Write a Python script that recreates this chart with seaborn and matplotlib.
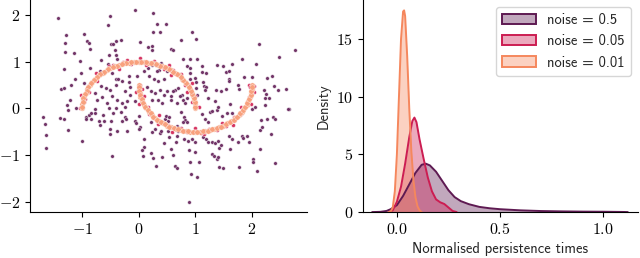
import matplotlib
matplotlib.use("Agg")
import matplotlib.pyplot as plt
from matplotlib.colors import to_rgba
from matplotlib.patches import Patch
import numpy as np
import pandas as pd
import seaborn as sns

# --- left panel: two moons at three noise levels ---
noise05_x = [
    -1.42, -0.50, -0.07, 0.25, -0.55, 0.33, 0.49, -1.28, -0.96, -0.91, -0.88, -0.87, -1.31, -1.30, -1.15,
    -1.04, -1.33, -0.49, -0.45, -0.40, -0.32, 0.02, 0.25, 0.38, 0.17, 0.24, 0.24, -0.42, -0.41, -0.38,
    -0.53, -0.67, -0.55, -0.87, -1.03, -1.12, -0.96, -1.19, -1.37, -1.32, -1.21, -1.27, -0.68, -0.47, -0.41,
    -0.37, -0.29, -0.17, -0.03, 0.09, 0.16, 0.24, 0.31, 0.40, 0.36, 0.32, 0.47, 0.50, 0.19, 0.27,
    0.35, 0.44, -0.66, -0.58, -0.50, -0.40, -0.17, -0.15, -0.25, -0.78, -0.74, -0.65, -0.56, -0.47, -0.38,
    -0.29, -0.21, 0.15, 0.21, 0.29, 0.37, 0.44, 0.50, 0.24, 0.35, 0.41, 0.06, -0.06, -0.15,
    0.94, 0.75, 1.01, 0.57, 0.61, 2.13, 2.76, 0.78, 0.91, 1.04, 2.48, 1.83, 1.39, 1.49, 1.66,
    1.12, 2.08, 0.86, 0.90, 1.12, 1.19, 1.55, 1.59, 1.86, 2.00, 2.28, 2.36, 1.60, 1.60, 0.90,
    0.91, 0.99, 1.02, 1.13, 1.16, 1.20, 1.36, 1.46, 1.54, 1.75, 1.78, 2.21, 2.25, 2.24, 2.40,
    2.47, 2.60, 2.31, 1.22, 1.35, 1.62, 2.23, 0.65, 0.61, 0.70, 0.76, 0.79, 0.73, 0.85, 0.58,
    0.67, 0.82, 0.57, 1.01, 1.04, 1.17, 2.66,
    -1.70, -1.66, -1.65, -1.65, -1.26, -1.39, -1.33, -1.25, -1.11, -1.00, -0.47, -0.94, -0.93, -0.84, -0.88,
    -0.84, -0.78, -0.77, -0.71, -0.69, -0.62, -0.63, -0.52, -0.45, -0.40, -0.32, -0.24, -0.49, -0.30, -0.24,
    -0.22, -0.51, -0.50, -0.38, -0.20, -0.06, -0.04, 0.00, 0.03, 0.01, 0.09, 0.09, 0.05, 0.08, 0.22,
    0.25, 0.21, 0.24, 0.28, 0.37, 0.40, 0.30, 0.42, 0.44, 0.53, 0.52, 0.47, 0.51, 0.49,
    0.74, 0.54, 0.80, 0.82, 0.85, 0.79, 0.68, 0.70, 0.67, 0.66, 0.80, 0.88, 0.94, 0.99, 0.57,
    0.61, 0.89, 1.00, 0.65, 0.67, 0.91, 1.07, 0.92, 1.04, 0.89, 1.12, 1.17, 1.23, 1.26, 1.29,
    1.38, 1.41, 1.47, 1.56, 1.65, 1.13, 1.20, 1.22, 1.30, 1.35, 1.41, 1.42, 1.45, 1.29, 1.33,
    1.38, 1.41, 1.43, 1.50, 1.59, 1.65, 1.61, 1.76, 1.83, 1.85, 1.91, 1.96, 1.78, 2.02, 2.03,
    2.09, 2.14, 2.42, 2.35, 2.14, 2.19, 2.17, 2.27, 2.38, 2.42, 2.65, 2.00, 2.06,
]
noise05_y = [
    1.94, 1.98, 2.12, 2.05, 1.79, 1.81, 1.82, 1.57, 1.59, 1.44, 1.41, 1.28, 1.41, 1.20, 1.18,
    1.01, 0.85, 1.38, 1.38, 1.44, 1.46, 1.43, 1.63, 1.65, 1.31, 1.33, 1.26, 1.26, 1.15, 1.07,
    1.14, 1.03, 0.95, 0.87, 0.75, 0.62, 0.54, 0.51, 0.42, 0.44, 0.17, 0.08, 0.81, 0.76, 0.62,
    0.64, 0.59, 0.69, 0.69, 0.80, 0.86, 0.94, 0.93, 0.97, 0.83, 0.80, 0.87, 0.80, 0.69, 0.62,
    0.58, 0.63, 0.47, 0.44, 0.40, 0.51, 0.57, 0.46, 0.37, 0.33, 0.19, 0.24, 0.11, 0.26, 0.19,
    0.11, 0.15, 0.46, 0.37, 0.33, 0.40, 0.29, 0.37, 0.19, 0.19, 0.11, 0.26, 0.15, 0.29,
    1.65, 1.46, 1.48, 1.28, 1.25, 1.38, 1.25, 1.06, 1.06, 1.07, 1.10, 1.06, 0.93, 0.91, 0.95,
    0.92, 0.95, 0.91, 0.87, 0.78, 0.77, 0.78, 0.81, 0.67, 0.68, 0.65, 0.70, 0.62, 0.59, 0.76,
    0.63, 0.65, 0.56, 0.56, 0.49, 0.46, 0.39, 0.37, 0.41, 0.51, 0.42, 0.39, 0.31, 0.22, 0.47,
    0.39, 0.42, 0.22, 0.22, 0.15, 0.09, 0.08, 0.40, 0.37, 0.44, 0.29, 0.19, 0.26, 0.22, 0.19,
    0.11, 0.11, 0.26, 0.44, 0.29, 0.39, -0.01,
    -0.19, -0.34, -0.57, -0.86, -0.47, -0.21, -0.22, -0.04, 0.01, -0.70, -1.02, -0.18, -0.22, -0.23, -0.14,
    -0.10, -0.09, -0.01, -0.27, -0.35, -0.27, -0.14, 0.01, -0.09, 0.00, -0.07, 0.02, -0.27, -0.28, -0.19,
    -0.23, -0.44, -0.56, -0.49, -0.49, -0.28, -0.32, -0.16, -0.39, -0.44, -0.66, -0.84, -0.90, -1.02, -0.95,
    -1.06, -0.30, -0.50, -0.44, -0.52, -0.49, -1.24, -1.05, -0.75, -0.62, -0.48, -0.22, -0.27, -0.16,
    -0.07, -0.19, -0.19, -0.24, -0.29, -0.29, -0.37, -0.48, -0.59, -0.72, -0.65, -0.70, -0.66, -0.73, -0.87,
    -1.00, -0.90, -0.93, -1.23, -1.29, -1.16, -1.15, -1.41, -1.48, -2.02, -0.12, -0.23, -0.30, -0.07, -0.05,
    -0.03, 0.02, -0.16, -0.09, -0.09, -0.62, -0.66, -0.73, -0.72, -0.75, -0.70, -0.86, -0.79, -0.98, -1.02,
    -1.09, -1.04, -1.25, -1.29, -0.59, -0.65, -0.87, -0.73, -0.59, -0.64, -0.60, -0.73, -1.25, -1.09, -1.15,
    -1.35, -0.87, -1.18, -0.54, -0.47, -0.39, -0.24, -0.23, -0.19, -0.23, -0.01, -0.01, 0.02,
]

noise005_x = [
    1.06, 0.94, 0.99, 0.86, 0.94, 0.76, 0.74, 0.57, 0.54, 0.37, 0.27, 0.13, 0.02, -0.13, -0.27,
    -0.34, -0.53, -0.61, -0.76, -0.74, -0.88, -0.88, -1.03, -0.96, -1.04, 0.45, -0.20, 0.82, -0.95, 0.60,
    -0.45,
    0.03, -0.04, 0.10, 0.00, 0.17, 0.19, 0.36, 0.35, 0.51, 0.59, 0.75, 0.86, 1.00, 1.15, 1.25,
    1.39, 1.47, 1.67, 1.68, 1.81, 1.81, 1.98, 1.95, 2.04, 1.95, 1.97, 2.05, 0.05, 1.10, 0.65,
    1.55,
]
noise005_y = [
    0.03, 0.13, 0.26, 0.35, 0.54, 0.60, 0.74, 0.72, 0.93, 0.91, 1.01, 0.93, 1.09, 0.95, 0.99,
    0.84, 0.92, 0.78, 0.76, 0.58, 0.51, 0.36, 0.28, 0.13, 0.01, 0.84, 1.04, 0.50, 0.20, 0.82,
    0.93,
    0.50, 0.35, 0.26, 0.10, 0.02, -0.13, -0.14, -0.34, -0.35, -0.51, -0.42, -0.51, -0.42, -0.56, -0.44,
    -0.46, -0.31, -0.35, -0.18, -0.13, 0.03, 0.10, 0.25, 0.35, 0.50, 0.45, 0.48, 0.42, -0.53, -0.42,
    -0.38,
]

noise001_x = [
    # upper moon
    1.00, 1.00, 0.98, 0.97, 0.94, 0.91, 0.87, 0.82, 0.77, 0.71, 0.64, 0.57, 0.50, 0.42, 0.34,
    0.26, 0.17, 0.09, 0.00, -0.09, -0.17, -0.26, -0.34, -0.42, -0.50, -0.57, -0.64, -0.71, -0.77, -0.82,
    -0.87, -0.91, -0.94, -0.97, -0.98, -1.00, -1.00,
    1.00, 0.99, 0.98, 0.95, 0.92, 0.89, 0.84, 0.79, 0.74, 0.68, 0.61, 0.54, 0.46, 0.38, 0.30,
    0.22, 0.13, 0.04, -0.04, -0.13, -0.22, -0.30, -0.38, -0.46, -0.54, -0.61, -0.68, -0.74, -0.79, -0.84,
    -0.89, -0.92, -0.95, -0.98, -0.99, -1.00,
    # lower moon
    0.00, 0.00, 0.02, 0.03, 0.06, 0.09, 0.13, 0.18, 0.23, 0.29, 0.36, 0.43, 0.50, 0.58, 0.66,
    0.74, 0.83, 0.91, 1.00, 1.09, 1.17, 1.26, 1.34, 1.42, 1.50, 1.57, 1.64, 1.71, 1.77, 1.82,
    1.87, 1.91, 1.94, 1.97, 1.98, 2.00, 2.00,
    0.00, 0.01, 0.02, 0.05, 0.08, 0.11, 0.16, 0.21, 0.26, 0.32, 0.39, 0.46, 0.54, 0.62, 0.70,
    0.78, 0.87, 0.96, 1.04, 1.13, 1.22, 1.30, 1.38, 1.46, 1.54, 1.61, 1.68, 1.74, 1.79, 1.84,
    1.89, 1.92, 1.95, 1.98, 1.99, 2.00,
]
noise001_y = [
    0.00, 0.09, 0.17, 0.26, 0.34, 0.42, 0.50, 0.57, 0.64, 0.71, 0.77, 0.82, 0.87, 0.91, 0.94,
    0.97, 0.98, 1.00, 1.00, 1.00, 0.98, 0.97, 0.94, 0.91, 0.87, 0.82, 0.77, 0.71, 0.64, 0.57,
    0.50, 0.42, 0.34, 0.26, 0.17, 0.09, 0.00,
    0.04, 0.13, 0.22, 0.30, 0.38, 0.46, 0.54, 0.61, 0.68, 0.74, 0.79, 0.84, 0.89, 0.92, 0.95,
    0.98, 0.99, 1.00, 1.00, 0.99, 0.98, 0.95, 0.92, 0.89, 0.84, 0.79, 0.74, 0.68, 0.61, 0.54,
    0.46, 0.38, 0.30, 0.22, 0.13, 0.04,
    0.50, 0.41, 0.33, 0.24, 0.16, 0.08, 0.00, -0.07, -0.14, -0.21, -0.27, -0.32, -0.37, -0.41, -0.44,
    -0.47, -0.48, -0.50, -0.50, -0.50, -0.48, -0.47, -0.44, -0.41, -0.37, -0.32, -0.27, -0.21, -0.14, -0.07,
    0.00, 0.08, 0.16, 0.24, 0.33, 0.41, 0.50,
    0.46, 0.37, 0.28, 0.20, 0.12, 0.04, -0.04, -0.11, -0.18, -0.24, -0.29, -0.34, -0.39, -0.42, -0.45,
    -0.48, -0.49, -0.50, -0.50, -0.49, -0.48, -0.45, -0.42, -0.39, -0.34, -0.29, -0.24, -0.18, -0.11, -0.04,
    0.04, 0.12, 0.20, 0.28, 0.37, 0.46,
]

# --- right panel: density of normalised persistence times ---
dens05_x = [-0.12, -0.08, -0.05, -0.03, 0.00, 0.03, 0.06, 0.09, 0.12, 0.14, 0.16, 0.19, 0.22, 0.25,
            0.28, 0.31, 0.35, 0.40, 0.45, 0.50, 0.60, 0.70, 0.80, 0.90, 1.00, 1.10, 1.12]
dens05_y = [0.00, 0.02, 0.10, 0.25, 0.60, 1.40, 2.40, 3.40, 4.10, 4.20, 4.05, 3.50, 2.70, 1.90,
            1.30, 0.95, 0.68, 0.45, 0.33, 0.25, 0.15, 0.09, 0.06, 0.04, 0.03, 0.01, 0.00]
dens005_x = [-0.04, -0.02, 0.00, 0.02, 0.04, 0.06, 0.075, 0.085, 0.095, 0.11, 0.13, 0.15, 0.17, 0.19,
             0.21, 0.23, 0.25, 0.27, 0.29]
dens005_y = [0.00, 0.15, 0.90, 2.20, 4.20, 6.50, 7.90, 8.20, 7.80, 6.30, 4.60, 3.00, 1.80, 1.10,
             0.85, 0.70, 0.40, 0.10, 0.00]
dens001_x = [-0.04, -0.03, -0.02, -0.01, 0.00, 0.01, 0.02, 0.03, 0.035, 0.04, 0.05, 0.06, 0.07, 0.08,
             0.09, 0.10, 0.11, 0.12]
dens001_y = [0.00, 0.05, 0.40, 1.80, 5.00, 10.0, 15.0, 17.4, 17.5, 17.0, 13.5, 9.00, 5.30, 2.80,
             1.30, 0.50, 0.15, 0.00]

noise_levels = ["0.5", "0.05", "0.01"]
colors = ["#5e1a52", "#cc1d52", "#f5875d"]
dot_colors = ["#6a2a60", "#d42a5a", "#f8a07c"]

left_xticks = [-1, 0, 1, 2]
left_yticks = [-2, -1, 0, 1, 2]
right_xticks = [0.0, 0.5, 1.0]
right_yticks = [0, 5, 10, 15]

sns.set_style("ticks")
plt.rcParams["font.family"] = ["cmss10", "DejaVu Sans"]
plt.rcParams["mathtext.fontset"] = "cm"
plt.rcParams["axes.edgecolor"] = "black"
plt.rcParams["xtick.color"] = "black"
plt.rcParams["ytick.color"] = "black"

fig = plt.figure(figsize=(6.4, 2.58), dpi=100)
ax1 = fig.add_axes([0.047, 0.178, 0.433, 0.822])
ax2 = fig.add_axes([0.567, 0.178, 0.430, 0.822])

# scatter, one call per noise level (drawn noisiest first)
groups = [(noise05_x, noise05_y, 7), (noise005_x, noise005_y, 8), (noise001_x, noise001_y, 15)]
for (gx, gy, size), c in zip(groups, dot_colors):
    sns.scatterplot(x=gx, y=gy, color=c, s=size, linewidth=0.3, edgecolor="white",
                    alpha=0.95, legend=False, ax=ax1)
ax1.set_xlabel("")
ax1.set_ylabel("")
ax1.set_xticks(left_xticks)
ax1.set_xticklabels([f"${v}$" for v in left_xticks])
ax1.set_yticks(left_yticks)
ax1.set_yticklabels([f"${v}$" for v in left_yticks])

# densities
dens = pd.DataFrame({
    "x": dens05_x + dens005_x + dens001_x,
    "density": dens05_y + dens005_y + dens001_y,
    "noise": ["0.5"] * len(dens05_x) + ["0.05"] * len(dens005_x) + ["0.01"] * len(dens001_x),
})
for lvl, c in zip(noise_levels, colors):
    d = dens[dens["noise"] == lvl]
    ax2.fill_between(d["x"], 0, d["density"], color=c, alpha=0.38, linewidth=0)
sns.lineplot(data=dens, x="x", y="density", hue="noise", hue_order=noise_levels,
             palette=colors, linewidth=1.4, estimator=None, legend=False, ax=ax2)
ax2.set_xlim(-0.165, 1.17)
ax2.set_ylim(0, 18.4)
ax2.set_xticks(right_xticks)
ax2.set_xticklabels([f"${v:.1f}$" for v in right_xticks])
ax2.set_yticks(right_yticks)
ax2.set_yticklabels([f"${v}$" for v in right_yticks])
ax2.set_xlabel("Normalised persistence times", fontsize=10.5)
ax2.set_ylabel("Density", fontsize=10.5)

handles = [Patch(facecolor=to_rgba(c, 0.38), edgecolor=c, linewidth=1.4, label=f"noise = {lvl}")
           for lvl, c in zip(noise_levels, colors)]
ax2.legend(handles=handles, loc="upper right", fontsize=10.5, handlelength=2.3)

for ax in (ax1, ax2):
    sns.despine(ax=ax)
    ax.tick_params(labelsize=11.5)

fig.savefig("out.png", dpi=100)
